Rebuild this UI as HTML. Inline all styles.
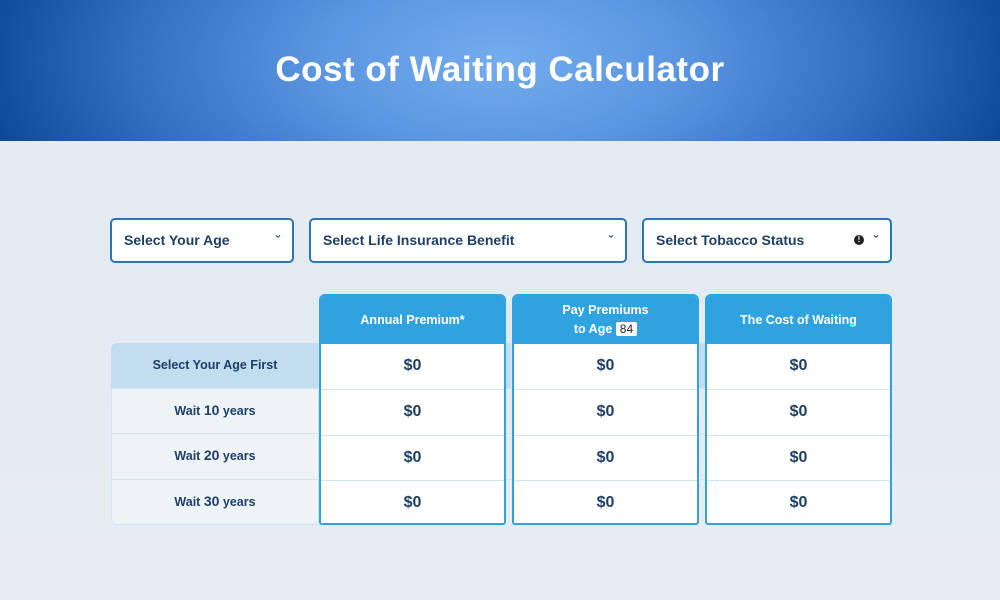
<!DOCTYPE html>
<html><head><style>
*{margin:0;padding:0;box-sizing:border-box}
body{width:1000px;height:600px;overflow:hidden;position:relative;font-family:"Liberation Sans",sans-serif;background:linear-gradient(180deg,#e6ecf3,#e3eaf2 60%,#e8edf3);color:#1d3f66}
.hdr{position:absolute;left:0;top:0;width:1000px;height:141px;background:radial-gradient(ellipse 520px 260px at 500px 60px,#74acee 0%,#5a95e0 35%,#3270c2 70%,#0f4a97 100%)}
.hdr h1{position:absolute;top:50px;width:100%;text-align:center;color:#fff;font-size:35px;font-weight:bold;letter-spacing:0.5px}
.dd{position:absolute;top:218px;height:45px;border:2px solid #2b74b8;border-radius:5px;background:#fff;font-weight:bold;font-size:14px;line-height:41px;padding-left:12px;color:#1d3f66}
.dd .ch{position:absolute;right:12px;top:0;font-size:13px}
.abs{position:absolute}
.lab{position:absolute;left:111px;width:208px;text-align:center;font-size:12.5px;font-weight:bold;line-height:45px}
.col{position:absolute;top:294px;height:231px;border:2px solid #2ea3e0;border-radius:6px 6px 3px 3px;background:#fff;overflow:hidden}
.col .h{height:48px;background:#2ea3e0;color:#fff;font-weight:bold;font-size:12.5px;text-align:center;display:flex;align-items:center;justify-content:center;line-height:19px}
.col .c{height:45.25px;border-top:1px solid #cfe5f3;text-align:center;line-height:44px;font-weight:bold;font-size:16px}
.col .h + .c{border-top:none}
.sep{position:absolute;left:111px;width:780px;height:1px;background:#cfe5f3}
</style></head><body>
<div class="hdr"><h1>Cost of Waiting Calculator</h1></div>
<div class="dd" style="left:110px;width:184px">Select Your Age<span class="ch">&#711;</span></div>
<div class="dd" style="left:309px;width:318px">Select Life Insurance Benefit<span class="ch">&#711;</span></div>
<div class="dd" style="left:642px;width:250px">Select Tobacco Status<span class="abs" style="right:26px;top:15px;width:10px;height:10px;border-radius:50%;background:#222;color:#fff;font-size:8px;line-height:10px;text-align:center">!</span><span class="ch">&#711;</span></div>
<div class="abs" style="left:111px;top:343px;width:208px;height:182px;background:#eef3f6;border:1px solid #cfe5f3;border-radius:6px 0 0 6px"></div>
<div class="abs" style="left:111px;top:343px;width:400px;height:45px;background:#c1ddee;border-radius:6px 0 0 0"></div>
<div class="abs" style="left:698px;top:343px;width:10px;height:45px;background:#c1ddee"></div>
<div class="lab" style="top:343px">Select Your Age First</div>
<div class="lab" style="top:388px">Wait <b style="font-size:14px">10</b> years</div>
<div class="lab" style="top:433px">Wait <b style="font-size:14px">20</b> years</div>
<div class="lab" style="top:479px">Wait <b style="font-size:14px">30</b> years</div>
<div class="sep" style="top:388px"></div><div class="sep" style="top:433px"></div><div class="sep" style="top:479px"></div>
<div class="col" style="left:319px;width:187px"><div class="h">Annual Premium*</div><div class="c">$0</div><div class="c">$0</div><div class="c">$0</div><div class="c">$0</div></div>
<div class="col" style="left:512px;width:187px"><div class="h"><div>Pay Premiums<br>to Age <span style="background:#fff;color:#222;font-weight:normal;font-size:12px;padding:0 4px;border-radius:2px">84</span></div></div><div class="c">$0</div><div class="c">$0</div><div class="c">$0</div><div class="c">$0</div></div>
<div class="col" style="left:705px;width:187px"><div class="h">The Cost of Waiting</div><div class="c">$0</div><div class="c">$0</div><div class="c">$0</div><div class="c">$0</div></div>
</body></html>
